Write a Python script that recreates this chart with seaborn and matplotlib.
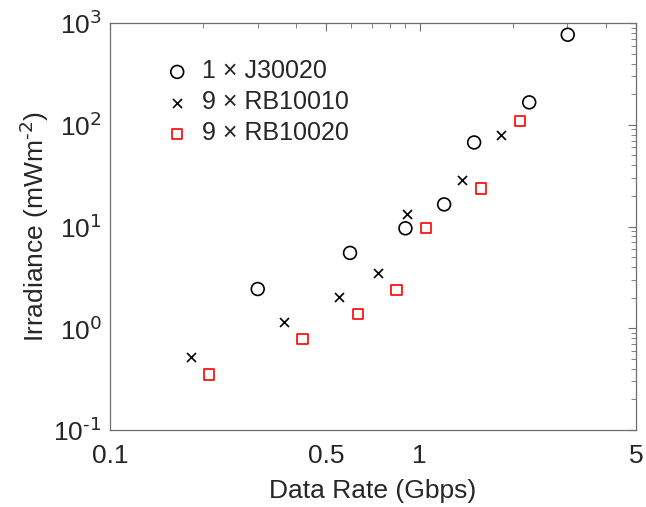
import numpy as np
import pandas as pd
import matplotlib
matplotlib.use('Agg')
import matplotlib.pyplot as plt
import matplotlib.ticker as mtick
import seaborn as sb

#%% Daten

rate_j30020 = [0.30, 0.596, 0.90, 1.20, 1.50, 2.26, 3.01]
irr_j30020 = [2.43, 5.5, 9.6, 16.5, 67, 166, 767]

rate_rb10010 = [0.182, 0.365, 0.55, 0.733, 0.912, 1.37, 1.83]
irr_rb10010 = [0.52, 1.16, 2.03, 3.49, 13.2, 28.9, 79.8]

rate_rb10020 = [0.209, 0.419, 0.631, 0.843, 1.05, 1.58, 2.11]
irr_rb10020 = [0.35, 0.78, 1.38, 2.38, 9.6, 23.7, 109]

labels = ['1 \u00d7 J30020', '9 \u00d7 RB10010', '9 \u00d7 RB10020']
x_ticks = [0.1, 0.5, 1, 5]
x_ticklabels = ['0.1', '0.5', '1', '5']
y_ticks = [0.1, 1, 10, 100, 1000]

#%% Plot

sb.set_style('white')
plt.rcParams['font.family'] = ['Liberation Sans', 'DejaVu Sans']
plt.rcParams['mathtext.default'] = 'regular'
plt.rcParams['axes.unicode_minus'] = False

txt_col = '#262626'
ax_col = '#6e6e6e'

fig = plt.figure(figsize=(6.46, 5.07), dpi=100)
ax = fig.add_axes([0.1703, 0.1519, 0.8142, 0.8027])

sb.scatterplot(x=rate_j30020, y=irr_j30020, marker='o', s=85, facecolors='none',
               edgecolor='black', linewidth=1.2, label=labels[0], ax=ax)
sb.scatterplot(x=rate_rb10010, y=irr_rb10010, marker='x', s=42, color='black',
               linewidth=1.2, label=labels[1], ax=ax)
sb.scatterplot(x=rate_rb10020, y=irr_rb10020, marker='s', s=55, facecolors='none',
               edgecolor='red', linewidth=1.2, label=labels[2], ax=ax)

ax.set_xscale('log')
ax.set_yscale('log')
ax.set_xlim(0.1, 5)
ax.set_ylim(0.1, 1000)
ax.set_xticks(x_ticks)
ax.set_xticklabels(x_ticklabels)
ax.set_yticks(y_ticks)
ax.yaxis.set_major_formatter(mtick.FuncFormatter(
    lambda v, pos: r'$10^{\text{%d}}$' % int(round(np.log10(v)))))

ax.tick_params(which='both', direction='in', top=True, right=True, colors=ax_col,
               labelcolor=txt_col, labelsize=19)
ax.tick_params(which='major', length=6, width=0.8)
ax.tick_params(which='minor', length=3.5, width=0.6)
ax.tick_params(axis='x', pad=10)
ax.tick_params(axis='y', pad=6)
for sp in ax.spines.values():
    sp.set_color(ax_col)
    sp.set_linewidth(0.9)

ax.set_xlabel('Data Rate (Gbps)', fontsize=19, color=txt_col, labelpad=8)
ax.set_ylabel(r'Irradiance (mWm$^{\text{-2}}$)', fontsize=19, color=txt_col, labelpad=2)

leg = ax.legend(loc='upper left', bbox_to_anchor=(0.085, 0.935), frameon=False,
                fontsize=18, handlelength=1.0, handletextpad=0.5,
                labelspacing=0.28, borderaxespad=0)
for t in leg.get_texts():
    t.set_color(txt_col)

fig.savefig('out.png', dpi=100)
